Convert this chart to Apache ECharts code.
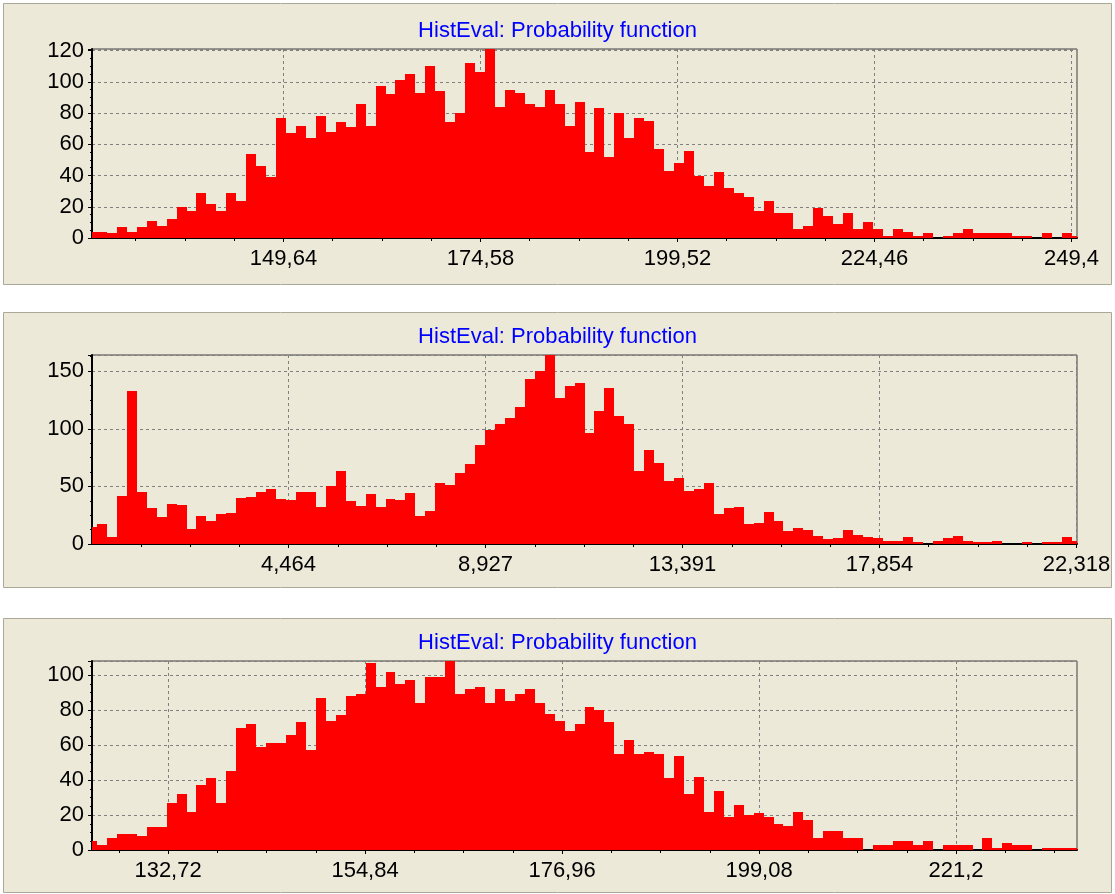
<!DOCTYPE html>
<html>
<head>
<meta charset="utf-8">
<title>HistEval</title>
<script src="https://cdn.jsdelivr.net/npm/echarts@6/dist/echarts.min.js"></script>
<style>
  html, body { margin: 0; padding: 0; background: #fff; }
  #chart { width: 1115px; height: 894px; }
</style>
</head>
<body>
<div id="chart"></div>
<script>
// bin counts, 100 bins per histogram
var counts1 = [4, 4, 3, 7, 4, 7, 11, 8, 12, 20, 17, 29, 22, 17, 29, 24, 54, 46, 39, 77,
  67, 72, 64, 78, 68, 74, 71, 86, 72, 97, 92, 101, 105, 93, 110, 94, 74, 80, 112, 106,
  121, 84, 95, 93, 86, 84, 95, 86, 72, 87, 55, 83, 52, 80, 64, 77, 75, 57, 43, 48,
  56, 40, 33, 42, 32, 29, 26, 17, 24, 16, 16, 6, 8, 19, 14, 9, 16, 6, 10, 6,
  1, 6, 4, 1, 3, 0, 1, 3, 6, 3, 3, 3, 3, 1, 1, 0, 3, 0, 3, 1];
var counts2 = [15, 17, 6, 42, 133, 45, 31, 23, 35, 34, 13, 24, 20, 26, 27, 40, 41, 45, 48, 39,
  38, 45, 45, 32, 50, 63, 37, 33, 43, 32, 39, 38, 44, 24, 29, 53, 51, 62, 69, 86,
  99, 104, 109, 119, 143, 150, 164, 127, 137, 140, 96, 115, 135, 111, 104, 63, 82, 70, 55, 57,
  46, 48, 53, 26, 31, 32, 17, 18, 28, 20, 11, 14, 12, 7, 4, 5, 12, 8, 6, 5,
  3, 3, 6, 2, 0, 3, 5, 7, 3, 2, 2, 3, 0, 0, 2, 0, 2, 2, 6, 3];
var counts3 = [5, 3, 7, 9, 9, 8, 13, 13, 27, 32, 22, 37, 41, 27, 45, 70, 72, 59, 61, 61,
  66, 73, 57, 87, 74, 77, 88, 89, 107, 93, 102, 95, 97, 84, 99, 99, 108, 89, 92, 93,
  84, 92, 85, 89, 92, 84, 78, 74, 68, 72, 82, 80, 73, 55, 63, 55, 56, 55, 41, 54,
  32, 42, 22, 34, 19, 26, 20, 21, 19, 15, 14, 22, 17, 7, 11, 11, 7, 7, 0, 3,
  3, 5, 5, 3, 5, 0, 3, 3, 3, 0, 7, 1, 4, 3, 3, 0, 1, 1, 1, 1];

// first and last bin centre of each histogram
var range1 = [125.4, 250.1];
var range2 = [0.01, 22.33];
var range3 = [124.18, 234.78];

// x tick values and their labels
var xTicks1 = [149.64, 174.58, 199.52, 224.46, 249.4];
var xLabels1 = ['149,64', '174,58', '199,52', '224,46', '249,4'];
var xTicks2 = [4.4636, 8.9272, 13.3908, 17.8544, 22.318];
var xLabels2 = ['4,464', '8,927', '13,391', '17,854', '22,318'];
var xTicks3 = [132.72, 154.84, 176.96, 199.08, 221.2];
var xLabels3 = ['132,72', '154,84', '176,96', '199,08', '221,2'];

// y tick step per panel
var yStep1 = 20;
var yStep2 = 50;
var yStep3 = 20;

var titleText = 'HistEval: Probability function';

var FONT = '"Liberation Sans", Arial, sans-serif';

var panels = [
  { counts: counts1, range: range1, xt: xTicks1, xl: xLabels1, ys: yStep1, box: [3, 3, 1108, 281], grid: 49, title: 20 },
  { counts: counts2, range: range2, xt: xTicks2, xl: xLabels2, ys: yStep2, box: [3, 312, 1108, 275], grid: 355, title: 326 },
  { counts: counts3, range: range3, xt: xTicks3, xl: xLabels3, ys: yStep3, box: [3, 618, 1108, 274], grid: 661, title: 632 }
];

function renderBin(params, api) {
  var c = api.value(0), v = api.value(1), w = api.value(2);
  var p0 = api.coord([c - w / 2, v]);
  var p1 = api.coord([c + w / 2, 0]);
  var cs = params.coordSys;
  // snap to whole pixels so neighbouring bars join without seams
  var x0 = Math.round(p0[0]), x1 = Math.round(p1[0]);
  var y0 = Math.round(p0[1]), y1 = Math.round(p1[1]);
  var shape = echarts.graphic.clipRectByRect(
    { x: x0, y: y0, width: x1 - x0, height: y1 - y0 },
    { x: cs.x, y: cs.y, width: cs.width, height: cs.height });
  return shape && {
    type: 'rect',
    shape: shape,
    style: { fill: '#ff0000' }
  };
}

var chart = echarts.init(document.getElementById('chart'), null, { renderer: 'canvas' });

var option = {
  backgroundColor: '#ffffff',
  animation: false,
  title: [], grid: [], xAxis: [], yAxis: [], series: [], graphic: []
};

panels.forEach(function (p, i) {
  var step = (p.range[1] - p.range[0]) / (p.counts.length - 1);
  var major = p.xt[1] - p.xt[0];
  // minor ticks: 3 between each pair of major ticks
  var minor = [];
  var k0 = Math.ceil((p.range[0] - p.xt[0]) / (major / 4));
  for (var k = k0; p.xt[0] + k * major / 4 <= p.range[1]; k++) {
    if (k % 4 !== 0) minor.push(p.xt[0] + k * major / 4);
  }
  var b = p.box;

  // etched panel frame
  option.graphic.push({
    type: 'rect', z: -100, silent: true,
    shape: { x: b[0] + 1.5, y: b[1] + 1.5, width: b[2], height: b[3] },
    style: { fill: 'none', stroke: '#ffffff', lineWidth: 1 }
  });
  option.graphic.push({
    type: 'rect', z: -99, silent: true,
    shape: { x: b[0] + 0.5, y: b[1] + 0.5, width: b[2], height: b[3] },
    style: { fill: '#ece9d8', stroke: '#aca899', lineWidth: 1 }
  });

  option.title.push({
    text: titleText, left: 'center', top: p.title, padding: 0,
    textStyle: { color: '#0000ff', fontSize: 22, fontWeight: 'normal', fontFamily: FONT }
  });

  option.grid.push({
    left: 92, top: p.grid, width: 985, height: 189,
    show: true, borderColor: '#404040', borderWidth: 1, backgroundColor: 'transparent'
  });

  // main x axis with labels and grid lines
  option.xAxis.push({
    gridIndex: i, type: 'value', min: p.range[0], max: p.range[1],
    axisLine: { show: true, onZero: false, lineStyle: { color: '#000', width: 2 } },
    axisTick: { show: true, customValues: p.xt, length: 4, lineStyle: { color: '#000' } },
    axisLabel: {
      customValues: p.xt, margin: 10, color: '#000', fontSize: 22, fontFamily: FONT,
      formatter: function (v) {
        var idx = p.xt.indexOf(v);
        return idx >= 0 ? p.xl[idx] : '';
      }
    },
    splitLine: { show: true, lineStyle: { color: '#808080', type: [3, 3], width: 1 } }
  });
  // minor ticks
  option.xAxis.push({
    gridIndex: i, type: 'value', min: p.range[0], max: p.range[1], position: 'bottom',
    axisLine: { show: false, onZero: false },
    axisTick: { show: true, customValues: minor, length: 3, lineStyle: { color: '#000' } },
    axisLabel: { show: false },
    splitLine: { show: false }
  });

  option.yAxis.push({
    gridIndex: i, type: 'value', min: 0, interval: p.ys,
    max: function (e) { return e.max; },
    axisLine: { show: true, lineStyle: { color: '#000', width: 2 } },
    axisTick: { show: true, length: 4, lineStyle: { color: '#000' } },
    minorTick: { show: true, splitNumber: 4, length: 2, lineStyle: { color: '#000' } },
    axisLabel: { showMaxLabel: false, margin: 8, color: '#000', fontSize: 22, fontFamily: FONT,
      formatter: function (v) { return v % p.ys === 0 ? String(v) : ''; } },
    splitLine: { show: true, lineStyle: { color: '#808080', type: [3, 3], width: 1 } }
  });

  option.series.push({
    type: 'custom', xAxisIndex: 2 * i, yAxisIndex: i,
    renderItem: renderBin,
    encode: { x: 0, y: 1 },
    data: p.counts.map(function (v, j) { return [p.range[0] + j * step, v, step]; })
  });
});

chart.setOption(option);
</script>
</body>
</html>
